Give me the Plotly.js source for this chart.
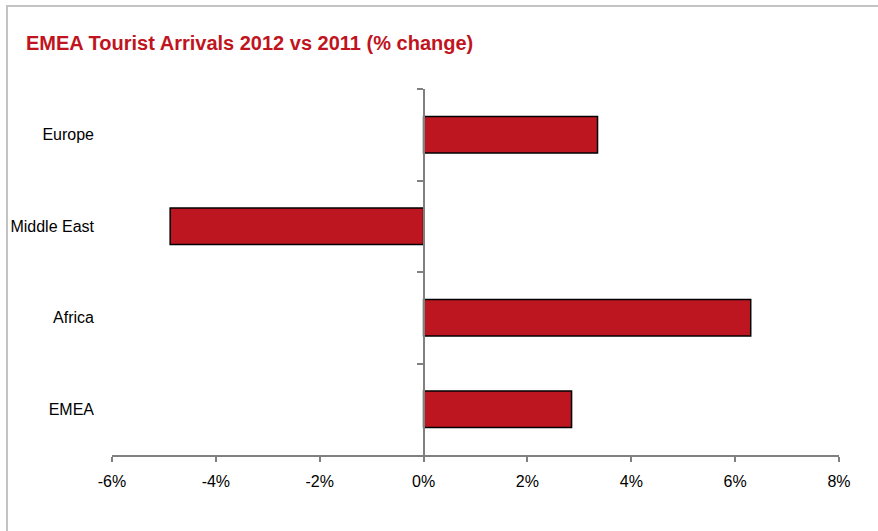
<!DOCTYPE html>
<html>
<head>
<meta charset="utf-8">
<script src="https://cdn.plot.ly/plotly-3.0.1.min.js"></script>
<style>
  html, body { margin: 0; padding: 0; background: #ffffff; }
  #wrap { position: relative; width: 878px; height: 531px; overflow: hidden; }
  #chart { position: absolute; left: 0; top: 0; width: 878px; height: 531px; }
  #frame { position: absolute; left: 6px; top: 5px; width: 900px; height: 560px;
           border-left: 2px solid #c3c3c3; border-top: 2px solid #c3c3c3; pointer-events: none; }
</style>
</head>
<body>
<div id="wrap">
  <div id="chart"></div>
  <div id="frame"></div>
</div>
<script>
const categories = ["Europe", "Middle East", "Africa", "EMEA"];
const changePct = [3.35, -4.88, 6.3, 2.85];
const xTickValues = [-6, -4, -2, 0, 2, 4, 6, 8];
const xTickLabels = ["-6%", "-4%", "-2%", "0%", "2%", "4%", "6%", "8%"];
const chartTitle = "EMEA Tourist Arrivals 2012 vs 2011 (% change)";

const barTrace = {
  type: "bar",
  orientation: "h",
  x: changePct,
  y: categories,
  xaxis: "x",
  yaxis: "y2",
  marker: { color: "#BE1620", line: { color: "#000000", width: 1.5 } },
  hoverinfo: "x+y"
};
const labelTrace = {
  type: "bar",
  orientation: "h",
  x: changePct,
  y: categories,
  xaxis: "x",
  yaxis: "y",
  marker: { color: "rgba(0,0,0,0)", line: { width: 0 } },
  hoverinfo: "skip",
  showlegend: false
};

const catRange = [categories.length - 0.5, -0.5];

const layout = {
  width: 878,
  height: 531,
  margin: { l: 112, r: 39, t: 89, b: 76 },
  paper_bgcolor: "#ffffff",
  plot_bgcolor: "#ffffff",
  showlegend: false,
  bargap: 0.6,
  barmode: "overlay",
  font: { family: "Arial, 'Liberation Sans', sans-serif", size: 16, color: "#000000" },
  title: {
    text: chartTitle,
    font: { family: "Arial, 'Liberation Sans', sans-serif", size: 20, color: "#C0141E", weight: "bold" },
    xref: "container", yref: "container",
    x: 26 / 878, xanchor: "left",
    y: 1 - 43 / 531, yanchor: "middle"
  },
  xaxis: {
    range: [-6, 8],
    tickvals: xTickValues,
    ticktext: xTickLabels,
    showgrid: false,
    zeroline: false,
    showline: true,
    linecolor: "#808080",
    linewidth: 2,
    ticks: "outside",
    ticklen: 5,
    tickwidth: 2,
    tickcolor: "#808080",
    ticklabelstandoff: 6,
    tickfont: { size: 16, color: "#000000" },
    fixedrange: true
  },
  yaxis: {
    type: "category",
    categoryorder: "array",
    categoryarray: categories,
    range: catRange,
    showgrid: false,
    zeroline: false,
    showline: false,
    ticks: "",
    ticklabelstandoff: 17,
    tickfont: { size: 16, color: "#000000" },
    fixedrange: true
  },
  yaxis2: {
    type: "category",
    categoryorder: "array",
    categoryarray: categories,
    range: catRange,
    overlaying: "y",
    anchor: "free",
    position: 3 / 7,
    side: "left",
    showgrid: false,
    zeroline: false,
    showline: true,
    linecolor: "#808080",
    linewidth: 2,
    ticks: "outside",
    tickson: "boundaries",
    ticklen: 6,
    tickwidth: 2,
    tickcolor: "#808080",
    showticklabels: false,
    fixedrange: true
  }
};

Plotly.newPlot("chart", [labelTrace, barTrace], layout, { displayModeBar: false, staticPlot: true });
</script>
</body>
</html>
